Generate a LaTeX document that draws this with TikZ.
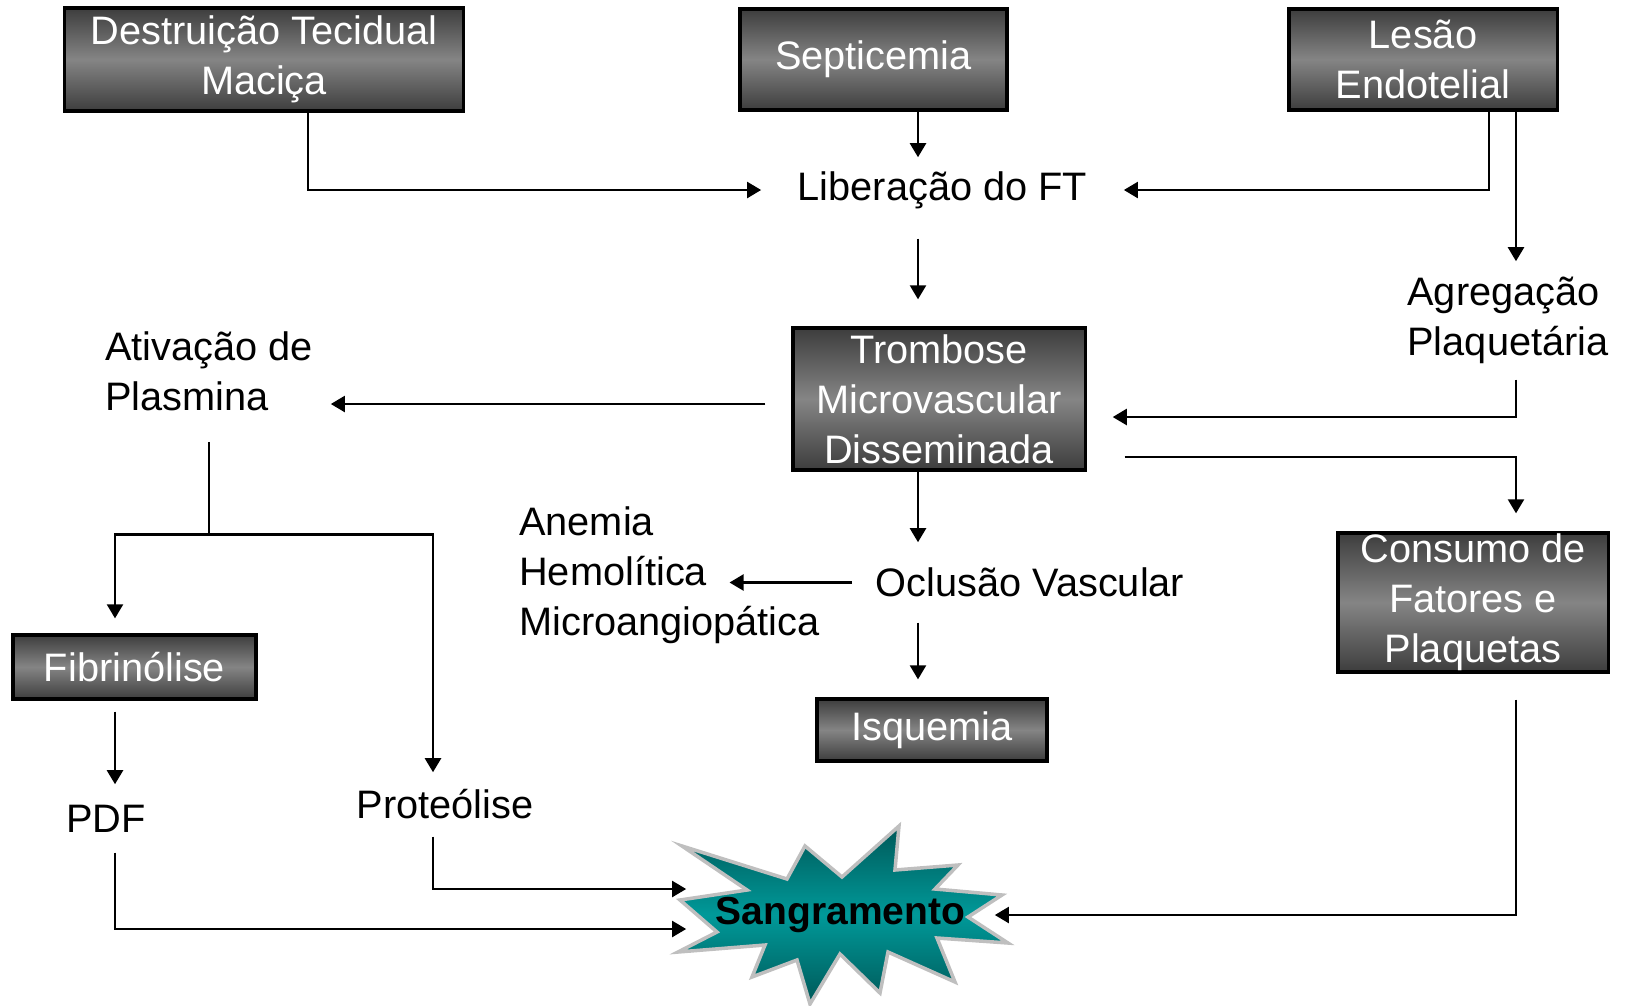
\documentclass[tikz,border=0pt]{standalone}
\usepackage{fontspec}
\setmainfont{Liberation Sans}
\usetikzlibrary{arrows.meta,calc}
\definecolor{burstdark}{RGB}{0,88,88}
\definecolor{burstmid}{RGB}{0,153,153}
\newcommand{\diagfont}{\fontsize{11.3pt}{14.2pt}\selectfont}
\begin{document}
\begin{tikzpicture}[x=0.01cm,y=-0.01cm,
    box/.style={draw=black,line width=0.9pt,top color=black!76,bottom color=black!76,middle color=black!48,text=white,font=\diagfont,align=center,inner sep=0pt},
    txt/.style={font=\diagfont,align=center,inner sep=0pt},
    arr/.style={-{Triangle[length=4pt,width=4.5pt]},line width=0.8pt},
    ln/.style={line width=0.8pt}]
    \useasboundingbox (0,0) rectangle (1626,1005);
    \node [box,minimum width=3.98cm,minimum height=1.03cm] (destr) at (264,59.5) {Destruição Tecidual\\Maciça};
    \node [box,minimum width=2.67cm,minimum height=1.01cm] (septi) at (873.5,59.5) {Septicemia};
    \node [box,minimum width=2.68cm,minimum height=1.01cm] (lesao) at (1423,59.5) {Lesão\\Endotelial};
    \node [txt,minimum width=3.61cm,minimum height=0.64cm] (lib) at (942.5,190) {Liberação do FT};
    \node [box,minimum width=2.92cm,minimum height=1.42cm] (tromb) at (939,399) {Trombose\\Microvascular\\Disseminada};
    \node [txt,align=left,minimum width=2.0cm,minimum height=1.17cm] (agreg) at (1508,320.5) {Agregação\\Plaquetária};
    \node [txt,align=left,minimum width=2.42cm,minimum height=1.4cm] (ativ) at (209,371) {Ativação de\\Plasmina};
    \node [box,minimum width=2.70cm,minimum height=1.39cm] (cons) at (1473,602.5) {Consumo de\\Fatores e\\Plaquetas};
    \node [txt,minimum width=3.54cm,minimum height=0.79cm] (ocl) at (1030,582.5) {Oclusão Vascular};
    \node [txt,align=left] (anemia) at (669.5,575.5) {Anemia\\Hemolítica\\Microangiopática};
    \node [box,minimum width=2.43cm,minimum height=0.64cm] (fibr) at (134.5,667) {Fibrinólise};
    \node [box,minimum width=2.30cm,minimum height=0.62cm] (isq) at (932,730) {Isquemia};
    \node [txt,minimum width=0.9cm,minimum height=0.67cm] (pdf) at (106,818.5) {PDF};
    \node [txt,minimum width=1.9cm,minimum height=0.63cm] (prot) at (445,804.5) {Proteólise};
    \draw [draw=black!25,line width=1pt,top color=burstdark,bottom color=burstdark,middle color=burstmid]
        (682,846) -- (787,879) -- (805,846) -- (842,877) -- (899,826) -- (895,870)
        -- (958,865) -- (935,889) -- (1002,895) -- (968,917) -- (1008,943) -- (937,938)
        -- (955,982) -- (888,952) -- (880,993) -- (840,954) -- (810,1004) -- (797,960)
        -- (752,977) -- (765,945) -- (678,952) -- (717,932) -- (680,900) -- (747,890) -- cycle;
    \node [inner sep=0pt,minimum width=3.07cm,minimum height=1cm,font=\fontsize{11.1pt}{13pt}\selectfont\bfseries] (sang) at (840.5,915) {Sangramento};
    \coordinate (spine) at (918,0);
    \coordinate (rspine) at (1516,0);
    \coordinate (lspine) at (115,0);
    \coordinate (split) at ($(ativ.south)+(0,93)$);
    \coordinate (twest) at ($(tromb.west)+(0,5)$);
    \draw [arr] ($(destr.south)+(44,0)$) |- (lib.west);
    \draw [arr] (septi.south -| spine) -- (lib.north -| spine);
    \draw [arr] ($(lesao.south)+(66,0)$) |- (lib.east);
    \draw [arr] (lesao.south -| rspine) -- (agreg.north -| rspine);
    \draw [arr,shorten <=0.16cm,shorten >=0.27cm] (lib.south -| spine) -- (tromb.north -| spine);
    \draw [arr,shorten >=0.26cm] (agreg.south -| rspine) |- ($(tromb.east)+(0,18)$);
    \draw [arr,shorten <=0.38cm,shorten >=0.18cm] ($(tromb.east)+(0,58)$) -| (cons.north -| rspine);
    \draw [arr,shorten <=0.26cm] (twest) -- (twest -| ativ.east);
    \draw [ln] (ativ.south) -- (split);
    \draw [arr,shorten >=0.15cm] (split) -| (lspine |- fibr.north);
    \draw [arr] (split) -| ($(prot.north)+(-12,0)$);
    \draw [arr] (tromb.south -| spine) -- (ocl.north -| spine);
    \draw [arr] (ocl.west) -- ($(ocl.west -| anemia.center)+(60,0)$);
    \draw [arr,shorten >=0.18cm] (ocl.south -| spine) -- (isq.north -| spine);
    \draw [arr,shorten <=0.11cm] (fibr.south -| lspine) -- (pdf.north -| lspine);
    \draw [arr] (pdf.south -| lspine) |- ($(sang.west)+(0,14)$);
    \draw [arr] ($(prot.south)+(-12,0)$) |- ($(sang.west)+(0,-26)$);
    \draw [arr,shorten <=0.26cm] (cons.south -| rspine) |- (sang.east);
\end{tikzpicture}
\end{document}
